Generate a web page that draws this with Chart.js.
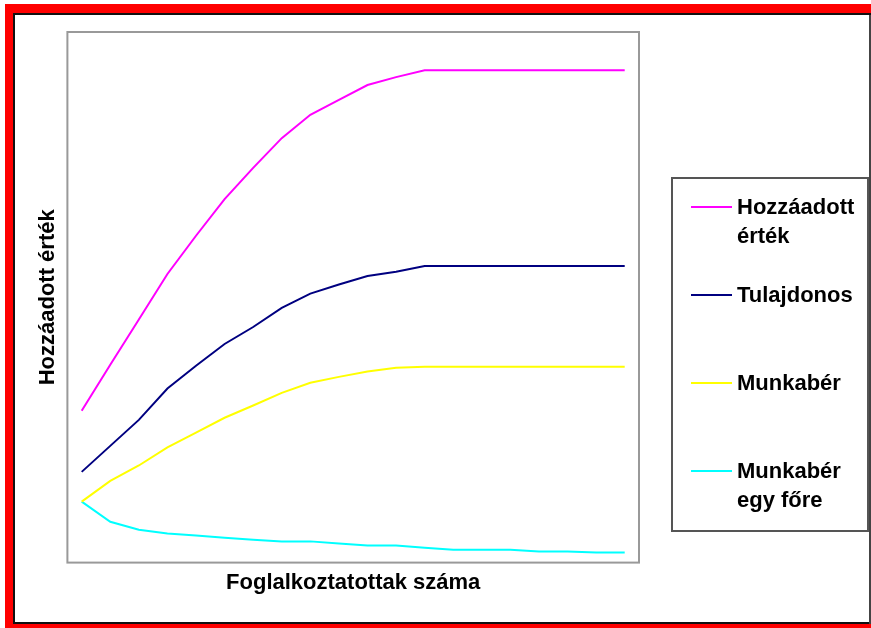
<!DOCTYPE html>
<html>
<head>
<meta charset="utf-8">
<script src="https://cdn.jsdelivr.net/npm/chart.js@4"></script>
<style>
  body { margin: 0; background: #fff; }
  canvas { display: block; }
</style>
</head>
<body>
<canvas id="chart" width="871" height="628"></canvas>
<script>
// x categories (no tick labels shown in the original)
var categories = ['1', '2', '3', '4', '5', '6', '7', '8', '9', '10',
                  '11', '12', '13', '14', '15', '16', '17', '18', '19', '20'];

var hozzaadott = [28.6, 37.3, 45.8, 54.4, 61.6, 68.5, 74.4, 80.0, 84.4, 87.2,
                  90.0, 91.5, 92.8, 92.8, 92.8, 92.8, 92.8, 92.8, 92.8, 92.8];
var tulajdonos = [17.1, 22.0, 26.9, 32.8, 37.1, 41.2, 44.4, 48.0, 50.7, 52.4,
                  54.0, 54.8, 55.9, 55.9, 55.9, 55.9, 55.9, 55.9, 55.9, 55.9];
var munkaber   = [11.5, 15.4, 18.3, 21.7, 24.5, 27.3, 29.6, 32.0, 33.9, 35.0,
                  36.0, 36.7, 36.9, 36.9, 36.9, 36.9, 36.9, 36.9, 36.9, 36.9];
var munkaberFo = [11.5, 7.7, 6.2, 5.5, 5.1, 4.7, 4.3, 4.0, 4.0, 3.6,
                  3.2, 3.2, 2.8, 2.4, 2.4, 2.4, 2.1, 2.1, 1.9, 1.9];

// legend labels, one entry per line
var seriesNames = [['Hozzáadott', 'érték'], ['Tulajdonos'], ['Munkabér'], ['Munkabér', 'egy főre']];

var FONT = 'Arial, "Liberation Sans", sans-serif';

/*-------------- frame + plot border ------------*/
var framePlugin = {
	id: 'frame',
	beforeDraw: function (chart) {
		var c = chart.ctx;
		c.save();
		c.fillStyle = '#ff0000';
		c.fillRect(5, 4, 866, 624);
		c.fillStyle = '#111';
		c.fillRect(13, 13, 858, 611);
		c.fillStyle = '#444';
		c.fillRect(869, 15, 2, 609);
		c.fillStyle = '#fff';
		c.fillRect(15, 15, 854, 607);
		c.restore();
	},
	beforeDatasetsDraw: function (chart) {
		var a = chart.chartArea, c = chart.ctx;
		c.save();
		c.strokeStyle = '#999';
		c.lineWidth = 2;
		c.strokeRect(a.left, a.top, a.right - a.left, a.bottom - a.top);
		c.restore();
	}
};

/*-------------- legend box on the right ------------*/
var legendBox = {
	id: 'legendBox',
	afterDraw: function (chart) {
		var c = chart.ctx;
		c.save();
		c.strokeStyle = '#555';
		c.lineWidth = 2;
		c.strokeRect(672, 178, 196, 353);

		c.font = 'bold 22px ' + FONT;
		c.fillStyle = '#000';
		c.textBaseline = 'alphabetic';
		chart.data.datasets.forEach(function (ds, i) {
			var y = 207 + i * 88;
			c.strokeStyle = ds.borderColor;
			c.lineWidth = 2;
			c.beginPath();
			c.moveTo(691, y);
			c.lineTo(732, y);
			c.stroke();
			seriesNames[i].forEach(function (line, k) {
				c.fillText(line, 737, y + 7 + k * 29);
			});
		});
		c.restore();
	}
};

var ctx = document.getElementById('chart').getContext('2d');
var chart = new Chart(ctx, {
	type: 'line',
	data: {
		labels: categories,
		datasets: [
			{ label: 'Hozzáadott érték', data: hozzaadott, borderColor: '#ff00ff' },
			{ label: 'Tulajdonos', data: tulajdonos, borderColor: '#000080' },
			{ label: 'Munkabér', data: munkaber, borderColor: '#ffff00' },
			{ label: 'Munkabér egy főre', data: munkaberFo, borderColor: '#00ffff' }
		]
	},
	options: {
		responsive: false,
		animation: false,
		devicePixelRatio: 1,
		layout: { padding: { left: 35, top: 32, right: 232, bottom: 32 } },
		elements: {
			line: { borderWidth: 2, tension: 0, fill: false },
			point: { radius: 0 }
		},
		plugins: {
			legend: { display: false },
			tooltip: { enabled: false }
		},
		scales: {
			x: {
				offset: true,
				grid: { display: false, drawTicks: false },
				border: { display: false },
				ticks: { display: false },
				title: {
					display: true,
					text: 'Foglalkoztatottak száma',
					color: '#000',
					font: { family: FONT, size: 22, weight: 'bold' },
					padding: { top: 7, bottom: 0 }
				}
			},
			y: {
				min: 0,
				max: 100,
				grid: { display: false, drawTicks: false },
				border: { display: false },
				ticks: { display: false },
				title: {
					display: true,
					text: 'Hozzáadott érték',
					color: '#000',
					font: { family: FONT, size: 22, weight: 'bold' },
					padding: { top: 0, bottom: 6 }
				}
			}
		}
	},
	plugins: [framePlugin, legendBox]
});
</script>
</body>
</html>
